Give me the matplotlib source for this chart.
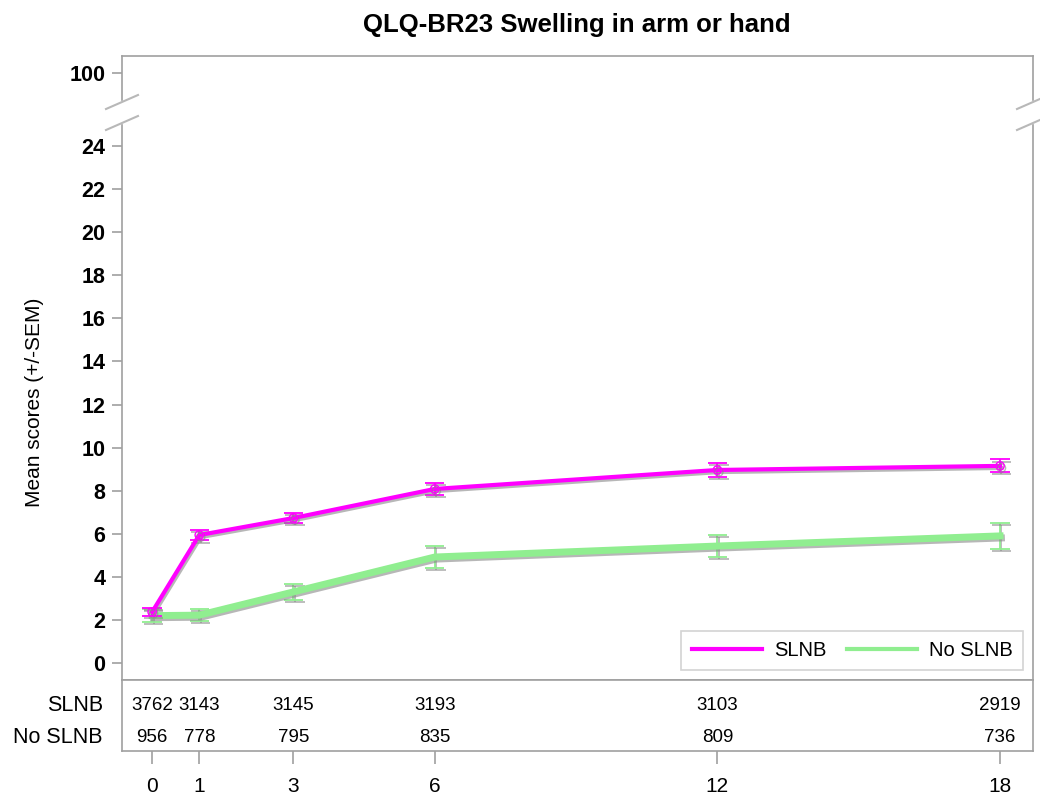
import matplotlib
matplotlib.use("Agg")
import matplotlib.pyplot as plt
import matplotlib.patheffects as pe
from matplotlib.lines import Line2D

plt.rcParams['font.family'] = ['Liberation Sans', 'DejaVu Sans']

months = [0, 1, 3, 6, 12, 18]
slnb_mean = [2.37, 5.94, 6.73, 8.08, 8.96, 9.15]
slnb_sem = [0.2, 0.25, 0.25, 0.27, 0.33, 0.3]
noslnb_mean = [2.2, 2.22, 3.3, 4.92, 5.43, 5.9]
noslnb_sem = [0.3, 0.28, 0.37, 0.5, 0.5, 0.6]
slnb_n = [3762, 3143, 3145, 3193, 3103, 2919]
noslnb_n = [956, 778, 795, 835, 809, 736]
yticks_low = list(range(0, 25, 2))

W, H = 1040, 799
fig = plt.figure(figsize=(W / 100, H / 100), dpi=100)

def box(x0, y0, x1, y1):
    # pixel box (top-left origin) -> figure rect
    return [x0 / W, 1 - y1 / H, (x1 - x0) / W, (y1 - y0) / H]

frame = '#a0a0a0'
magenta = '#ff00ff'
green = '#90ee90'

ax_top = fig.add_axes(box(122, 56, 1033, 100))
ax = fig.add_axes(box(122, 125, 1033, 680))
ax_tab = fig.add_axes(box(122, 680, 1033, 751))

px = 1 / 21.54
xlim = (-0.64, 18.7)
ax.set_ylim(-17 * px, 24 + 21 * px)
ax_top.set_ylim(100 - 27 * px, 100 + 17 * px)

for a in (ax_top, ax, ax_tab):
    a.set_xlim(*xlim)
    for s in a.spines.values():
        s.set_color(frame)
        s.set_linewidth(1.2)
    a.tick_params(color=frame, length=7, width=1.2)

ax_top.spines['bottom'].set_visible(False)
ax_top.set_xticks([])
ax_top.set_yticks([100])
ax.spines['top'].set_visible(False)
ax.set_xticks([])
ax.set_yticks(yticks_low)
for a in (ax_top, ax):
    a.tick_params(axis='y', labelsize=15.5, pad=5)
    for lab in a.get_yticklabels():
        lab.set_fontweight('bold')

shadow = [pe.SimpleLineShadow(offset=(1, -1.5), shadow_color='#888888', alpha=0.6), pe.Normal()]

ax.errorbar(months, noslnb_mean, yerr=noslnb_sem, color=green, ecolor=green,
            elinewidth=1.3, capsize=7, capthick=1.3, lw=5, path_effects=shadow, zorder=3)
ax.errorbar(months, slnb_mean, yerr=slnb_sem, color=magenta, ecolor=magenta,
            elinewidth=1.3, capsize=7, capthick=1.3, lw=3, marker='o', ms=6,
            mfc='none', mec=magenta, path_effects=shadow, zorder=4)

ax.set_ylabel('Mean scores (+/-SEM)', fontsize=15, labelpad=27)

handles = [Line2D([], [], color=magenta, lw=3), Line2D([], [], color=green, lw=3)]
leg = ax.legend(handles, ['SLNB', 'No SLNB'], loc='lower right', ncol=2, fontsize=14.5,
                frameon=True, fancybox=False, handlelength=3.5, columnspacing=1.0,
                handletextpad=0.6, borderpad=0.5, borderaxespad=0,
                bbox_to_anchor=(0.989, 0.018))
leg.get_frame().set_edgecolor('#c8c8c8')
leg.get_frame().set_linewidth(1.2)

# break marks
for xp in (122, 1033):
    for yp in (103, 124):
        fig.add_artist(Line2D([(xp - 16) / W, (xp + 16) / W],
                              [1 - (yp + 6) / H, 1 - (yp - 8) / H],
                              color='#b8b8b8', lw=1.5))

# table of counts
ax_tab.set_ylim(0, 1)
ax_tab.set_yticks([])
ax_tab.set_xticks(months)
ax_tab.set_xticklabels([str(m) for m in months], fontsize=15)
ax_tab.tick_params(axis='x', length=9, pad=10)
for m, n1, n2 in zip(months, slnb_n, noslnb_n):
    ax_tab.text(m, 0.635, str(n1), ha='center', va='center', fontsize=13.5)
    ax_tab.text(m, 0.19, str(n2), ha='center', va='center', fontsize=13.5)
ax_tab.text(-0.021, 0.635, 'SLNB', transform=ax_tab.transAxes, ha='right', va='center', fontsize=15.5)
ax_tab.text(-0.021, 0.19, 'No SLNB', transform=ax_tab.transAxes, ha='right', va='center', fontsize=15.5)

fig.text(577 / W, 1 - 25 / H, 'QLQ-BR23 Swelling in arm or hand', ha='center', va='center',
         fontsize=18.5, fontweight='bold')

fig.savefig('out.png', dpi=100)
